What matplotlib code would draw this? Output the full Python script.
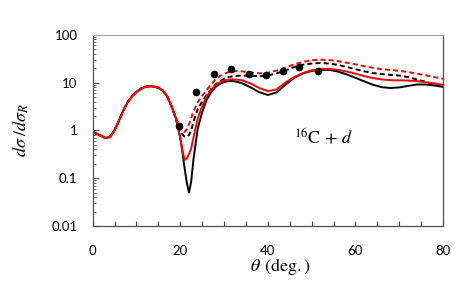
import numpy as np
import matplotlib
matplotlib.use('Agg')
import matplotlib.pyplot as plt
from matplotlib.ticker import LogLocator, MultipleLocator, NullFormatter

plt.rcParams['mathtext.fontset'] = 'stix'

# angle grid shared by all four calculations (deg)
theta = [0, 1, 2, 3, 4, 5, 6, 7, 8, 9, 10, 11, 12, 13, 14, 15, 16, 17, 18, 19,
         20, 20.5, 21, 21.5, 22, 22.5, 23, 24, 25, 26, 27, 28, 29, 30, 31, 32,
         34, 36, 38, 40, 42, 44, 46, 48, 50, 52, 54, 56, 58, 60, 62, 64, 66, 68,
         70, 72, 74, 76, 78, 80]

# small-angle part, identical for all curves
common = [0.92, 0.84, 0.76, 0.69, 0.74, 1.0, 1.6, 2.6, 3.9, 5.2,
          6.4, 7.4, 8.1, 8.4, 8.2, 7.8, 6.8, 5.2, 3.2, 1.8]

black_solid = common + [0.7, 0.35, 0.16, 0.08, 0.05, 0.085, 0.24, 1.1, 2.4, 4.3,
                        6.2, 8.0, 9.3, 10.2, 10.7, 10.8, 9.8, 8.0, 6.3, 5.5,
                        6.2, 9.0, 12.5, 15.5, 17.5, 18.4, 18.4, 17.0, 14.8, 12.6,
                        10.6, 9.0, 8.0, 7.7, 7.9, 8.5, 9.1, 9.1, 8.7, 8.1]

red_solid = common + [0.7, 0.38, 0.24, 0.26, 0.32, 0.42, 0.7, 1.8, 3.2, 5.0,
                      7.0, 8.7, 10.0, 11.0, 11.5, 11.7, 11.2, 9.6, 7.7, 6.6,
                      7.2, 10.0, 13.0, 15.8, 18.0, 19.2, 19.3, 18.4, 17.0, 15.3,
                      13.6, 12.4, 11.6, 11.2, 11.1, 11.0, 10.7, 10.2, 9.6, 8.9]

black_dashed = common + [1.0, 0.82, 0.74, 0.73, 0.8, 1.0, 1.5, 2.8, 4.0, 5.5,
                         7.2, 9.0, 10.6, 12.0, 13.0, 13.6, 14.0, 13.8, 13.6, 14.0,
                         15.5, 18.0, 21.0, 23.5, 25.0, 25.6, 25.0, 23.4, 21.2, 19.0,
                         17.2, 15.8, 15.0, 14.5, 14.0, 13.0, 11.6, 10.4, 9.2, 8.2]

red_dashed = common + [1.15, 0.95, 0.93, 1.05, 1.35, 1.8, 2.5, 3.9, 5.3, 6.9,
                       9.0, 11.5, 13.5, 15.2, 16.5, 17.3, 17.2, 16.2, 15.6, 16.0,
                       17.8, 20.5, 24.0, 27.0, 29.3, 30.0, 29.6, 28.0, 26.0, 24.0,
                       22.0, 20.3, 19.0, 18.3, 17.6, 16.6, 15.4, 14.2, 13.0, 12.0]

# measured data
exp_theta = [19.8, 23.6, 27.7, 31.5, 35.6, 39.5, 43.4, 47.2, 51.4]
exp_ratio = [1.24, 6.3, 14.8, 18.8, 15.1, 14.3, 17.6, 20.7, 17.4]

fig = plt.figure(figsize=(4.68, 2.87), dpi=100)
ax = fig.add_axes([0.198, 0.2125, 0.7486, 0.6665])

ax.plot(theta, black_solid, color='black', lw=1.4)
ax.plot(theta, black_dashed, color='black', lw=1.4, dashes=(2.6, 1.6))
ax.plot(theta, red_solid, color='#ff0000', lw=1.4)
ax.plot(theta, red_dashed, color='#ff0000', lw=1.4, dashes=(2.6, 1.6))
ax.plot(exp_theta, exp_ratio, 'o', color='black', ms=4.5, zorder=5)

ax.set_yscale('log')
ax.set_xlim(0, 80)
ax.set_ylim(0.01, 100)
ax.xaxis.set_major_locator(MultipleLocator(20))
ax.xaxis.set_minor_locator(MultipleLocator(5))
ax.yaxis.set_minor_locator(LogLocator(base=10, subs=np.arange(2, 10), numticks=10))
ax.yaxis.set_minor_formatter(NullFormatter())
ax.set_yticks([0.01, 0.1, 1, 10, 100])
ax.set_yticklabels(['0.01', '0.1', '1', '10', '100'])

for lab in ax.get_xticklabels() + ax.get_yticklabels():
    lab.set_fontfamily('Lato')
    lab.set_fontsize(9.5)
ax.tick_params(axis='y', which='major', direction='in', length=4, width=0.8, colors='#505050', labelcolor='black', pad=11)
ax.tick_params(axis='y', which='minor', direction='in', length=2.5, width=0.6, colors='#505050')
ax.tick_params(axis='x', which='both', direction='in', length=3.5, width=0.8, colors='#505050', labelcolor='black', pad=13.5)

for side in ['left', 'bottom', 'right']:
    ax.spines[side].set_color('#505050')
    ax.spines[side].set_linewidth(0.9)
ax.spines['top'].set_color('#a6a6a6')
ax.spines['top'].set_linewidth(0.9)

ax.set_xlabel(r'$\theta\;\,(\mathrm{deg.})$', fontsize=13)
ax.xaxis.set_label_coords(0.537, -0.155)
ax.set_ylabel(r'$d\sigma\;/d\sigma_R$', fontsize=13)
ax.yaxis.set_label_coords(-0.175, 0.5)

ax.text(52.6, 0.69, r'$^{16}\mathrm{C}\,+\,d$', fontsize=13, ha='center', va='center')

fig.savefig('out.png', dpi=100)
